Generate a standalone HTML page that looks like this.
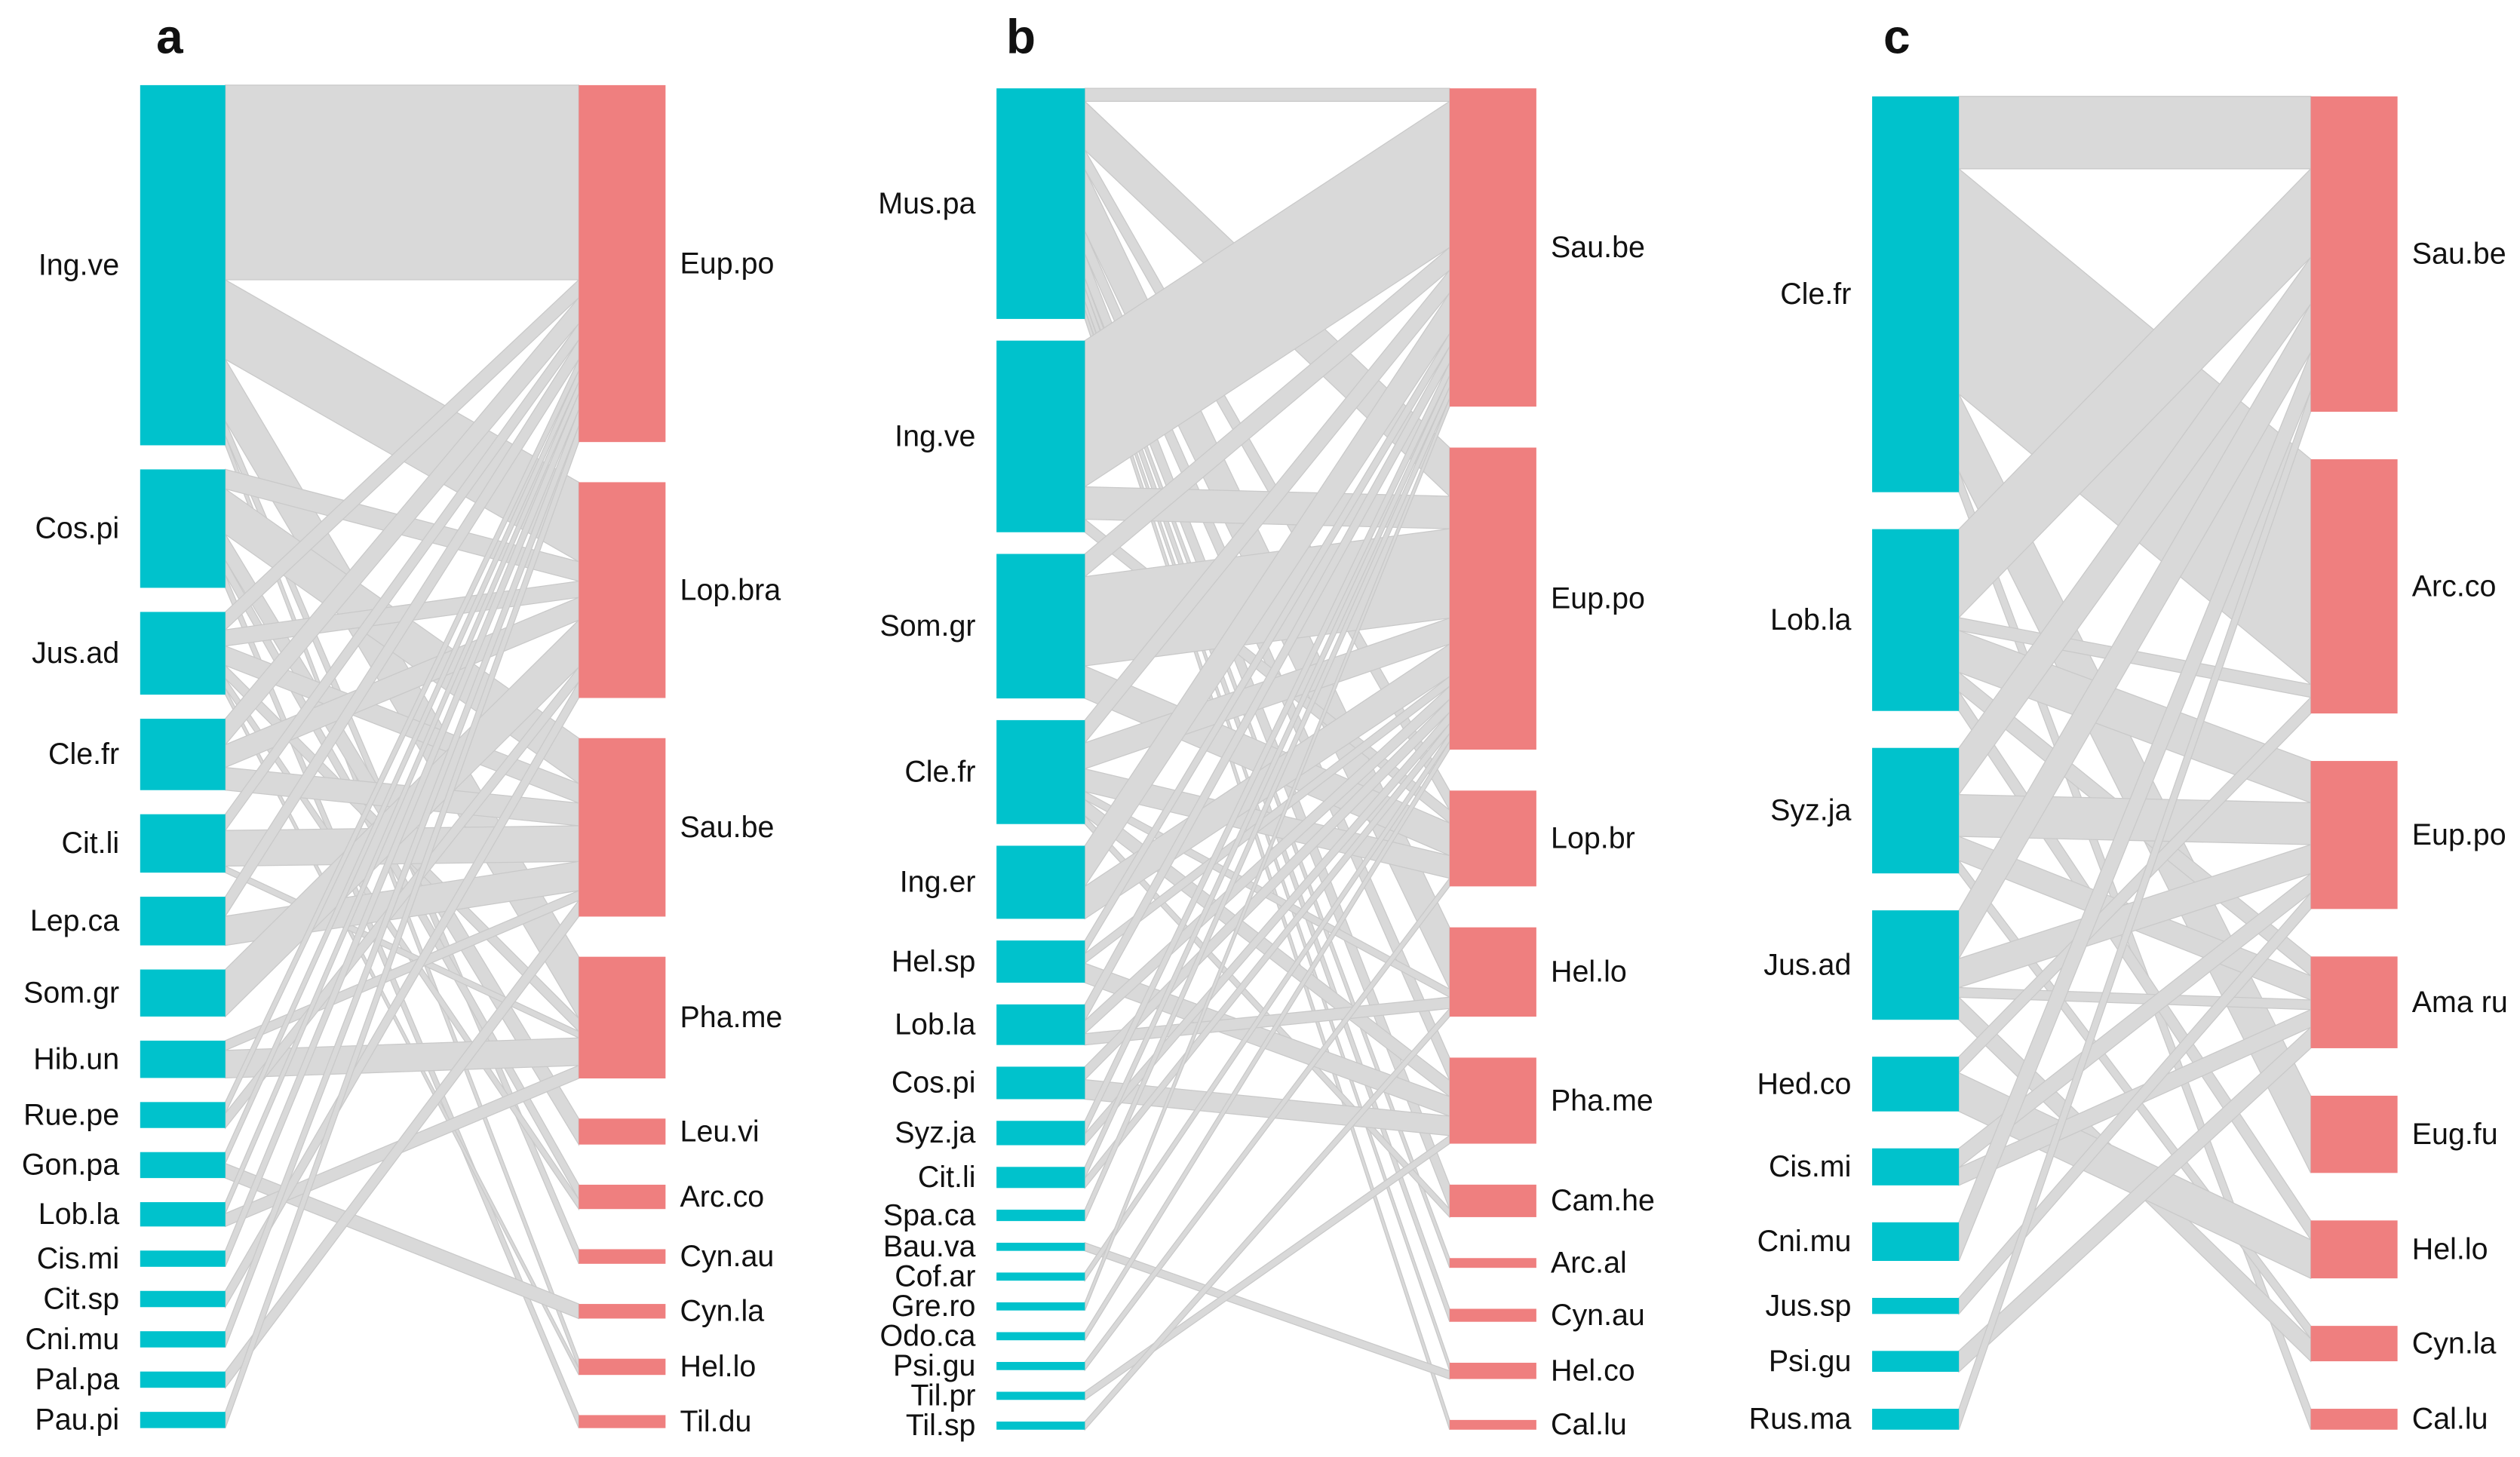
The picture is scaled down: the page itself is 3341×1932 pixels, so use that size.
<!DOCTYPE html>
<html><head><meta charset="utf-8">
<style>
html,body{margin:0;padding:0;background:#fff;}
svg{display:block;}
text{font-family:"Liberation Sans",sans-serif;fill:#111;}
</style></head>
<body>
<svg id="fig" width="3341" height="1932" viewBox="0 0 1568 907" xmlns="http://www.w3.org/2000/svg"></svg>
<script>
// ---------- Panel a data ----------
const aLeft = ["Ing.ve","Cos.pi","Jus.ad","Cle.fr","Cit.li","Lep.ca","Som.gr","Hib.un","Rue.pe","Gon.pa","Lob.la","Cis.mi","Cit.sp","Cni.mu","Pal.pa","Pau.pi"];
const aRight = ["Eup.po","Lop.bra","Sau.be","Pha.me","Leu.vi","Arc.co","Cyn.au","Cyn.la","Hel.lo","Til.du"];
const aSrc = ["Ing.ve","Ing.ve","Ing.ve","Ing.ve","Ing.ve","Cos.pi","Cos.pi","Cos.pi","Cos.pi","Cos.pi","Jus.ad","Jus.ad","Jus.ad","Jus.ad","Jus.ad","Jus.ad","Cle.fr","Cle.fr","Cle.fr","Cit.li","Cit.li","Cit.li","Lep.ca","Lep.ca","Som.gr","Hib.un","Hib.un","Rue.pe","Rue.pe","Gon.pa","Gon.pa","Lob.la","Lob.la","Cis.mi","Cit.sp","Cni.mu","Pal.pa","Pau.pi"];
const aTgt = ["Eup.po","Lop.bra","Pha.me","Cyn.au","Hel.lo","Lop.bra","Sau.be","Leu.vi","Arc.co","Til.du","Eup.po","Lop.bra","Sau.be","Pha.me","Arc.co","Hel.lo","Eup.po","Lop.bra","Sau.be","Eup.po","Sau.be","Pha.me","Eup.po","Sau.be","Lop.bra","Sau.be","Pha.me","Eup.po","Lop.bra","Eup.po","Cyn.la","Eup.po","Pha.me","Eup.po","Lop.bra","Eup.po","Sau.be","Eup.po"];
const aW   = [120,49,38,9,6, 12,28,16,9,8, 11,10,12,8,6,4, 16,14,14, 10,22,4, 12,18, 29, 6,17, 7,9, 7,9, 7,8, 10,10,10,10,10];

// ---------- Panel b data ----------
const bLeft = ["Mus.pa","Ing.ve","Som.gr","Cle.fr","Ing.er","Hel.sp","Lob.la","Cos.pi","Syz.ja","Cit.li","Spa.ca","Bau.va","Cof.ar","Gre.ro","Odo.ca","Psi.gu","Til.pr","Til.sp"];
const bRight = ["Sau.be","Eup.po","Lop.br","Hel.lo","Pha.me","Cam.he","Arc.al","Cyn.au","Hel.co","Cal.lu"];
const bSrc = ["Mus.pa","Mus.pa","Mus.pa","Mus.pa","Mus.pa","Mus.pa","Mus.pa","Mus.pa","Mus.pa","Mus.pa","Ing.ve","Ing.ve","Ing.ve","Som.gr","Som.gr","Som.gr","Cle.fr","Cle.fr","Cle.fr","Cle.fr","Cle.fr","Cle.fr","Ing.er","Ing.er","Hel.sp","Hel.sp","Hel.sp","Lob.la","Lob.la","Lob.la","Cos.pi","Cos.pi","Syz.ja","Syz.ja","Cit.li","Cit.li","Spa.ca","Bau.va","Cof.ar","Gre.ro","Odo.ca","Psi.gu","Til.pr","Til.sp"];
const bTgt = ["Sau.be","Eup.po","Lop.br","Hel.lo","Pha.me","Cam.he","Arc.al","Cyn.au","Hel.co","Cal.lu","Sau.be","Eup.po","Lop.br","Sau.be","Eup.po","Lop.br","Sau.be","Eup.po","Lop.br","Hel.lo","Pha.me","Cam.he","Sau.be","Eup.po","Sau.be","Eup.po","Pha.me","Sau.be","Eup.po","Hel.lo","Eup.po","Pha.me","Sau.be","Eup.po","Sau.be","Eup.po","Sau.be","Hel.co","Eup.po","Sau.be","Eup.po","Lop.br","Pha.me","Hel.lo"];
const bW   = [8,30,12,38,14,15,6,8,5,6, 90,20,8, 14,55,20, 14,16,14,5,10,5, 25,20, 8,6,12, 10,8,7, 8,12, 8,7, 7,6, 7, 5,5,5,5,5,5,5];

// ---------- Panel c data ----------
const cLeft = ["Cle.fr","Lob.la","Syz.ja","Jus.ad","Hed.co","Cis.mi","Cni.mu","Jus.sp","Psi.gu","Rus.ma"];
const cRight = ["Sau.be","Arc.co","Eup.po","Ama ru","Eug.fu","Hel.lo","Cyn.la","Cal.lu"];
const cSrc = ["Cle.fr","Cle.fr","Cle.fr","Cle.fr","Lob.la","Lob.la","Lob.la","Lob.la","Lob.la","Syz.ja","Syz.ja","Syz.ja","Syz.ja","Jus.ad","Jus.ad","Jus.ad","Jus.ad","Hed.co","Hed.co","Cis.mi","Cis.mi","Cni.mu","Jus.sp","Psi.gu","Rus.ma"];
const cTgt = ["Sau.be","Arc.co","Eug.fu","Cal.lu","Sau.be","Arc.co","Eup.po","Ama ru","Hel.lo","Sau.be","Eup.po","Ama ru","Cyn.la","Sau.be","Eup.po","Ama ru","Cyn.la","Arc.co","Hel.lo","Eup.po","Ama ru","Sau.be","Eup.po","Ama ru","Sau.be"];
const cW   = [45,140,48,13, 55,8,26,12,12, 29,26,15,8, 30,18,6,14, 10,24, 12,11, 24, 10, 13, 13];

const NS = "http://www.w3.org/2000/svg";
const svg = document.getElementById("fig");
function mk(tag, attrs, parent){
  const e = document.createElementNS(NS, tag);
  for (const k in attrs) e.setAttribute(k, attrs[k]);
  (parent||svg).appendChild(e);
  return e;
}

function drawPanel(pid, letter, left, right, src, tgt, w, L){
  const g = mk("g", {});
  
  
  const H = L.bot - L.top;
  const sumL = left.map(n => 0), sumR = right.map(n => 0);
  for (let i=0;i<w.length;i++){ sumL[left.indexOf(src[i])] += w[i]; sumR[right.indexOf(tgt[i])] += w[i]; }
  const totL = sumL.reduce((a,b)=>a+b,0), totR = sumR.reduce((a,b)=>a+b,0);
  const k = Math.min((H - L.gapL*(left.length-1))/totL, (H - 10*(right.length-1))/totR);
  const gapL = (H - k*totL)/(left.length-1);
  const gapR = (H - k*totR)/(right.length-1);
  const yL = [], yR = [];
  let y = L.top; for (let i=0;i<left.length;i++){ yL.push(y); y += sumL[i]*k + gapL; }
  y = L.top; for (let i=0;i<right.length;i++){ yR.push(y); y += sumR[i]*k + gapR; }
  const idx = w.map((_,i)=>i);
  const so = {}, to = {};
  const offL = left.map(()=>0), offR = right.map(()=>0);
  idx.slice().sort((a,b)=> left.indexOf(src[a])-left.indexOf(src[b]) || right.indexOf(tgt[a])-right.indexOf(tgt[b]))
    .forEach(i=>{ const s=left.indexOf(src[i]); so[i]=yL[s]+offL[s]; offL[s]+=w[i]*k; });
  idx.slice().sort((a,b)=> right.indexOf(tgt[a])-right.indexOf(tgt[b]) || left.indexOf(src[a])-left.indexOf(src[b]))
    .forEach(i=>{ const t=right.indexOf(tgt[i]); to[i]=yR[t]+offR[t]; offR[t]+=w[i]*k; });
  const lg = mk("g", {}, g);
  
  
  idx.forEach(i=>{
    const h = w[i]*k;
    const p = mk("polygon", {points: `${L.x2},${so[i]} ${L.x3},${to[i]} ${L.x3},${to[i]+h} ${L.x2},${so[i]+h}`,
      fill:"#d9d9d9", stroke:"#c9c9c9", "stroke-width":"0.6"}, lg);
    
    
  });
  left.forEach((n,i)=>{
    const r = mk("rect", {x:L.x1, y:yL[i], width:L.x2-L.x1, height:sumL[i]*k, fill:"#00c2cc"}, g);
    
    
    const t = mk("text", {x:L.x1-13, y:yL[i]+sumL[i]*k/2+6, "font-size":"18.5", "text-anchor":"end"}, g);
    t.textContent = n;
    
    
  });
  right.forEach((n,i)=>{
    const r = mk("rect", {x:L.x3, y:yR[i], width:L.x4-L.x3, height:sumR[i]*k, fill:"#ef7f7f"}, g);
    
    
    const t = mk("text", {x:L.x4+9, y:yR[i]+sumR[i]*k/2+6, "font-size":"18.5"}, g);
    t.textContent = n;
    
    
  });
  const lt = mk("text", {x:L.lx, y:33, "font-size":"30", "font-weight":"bold"}, g);
  lt.textContent = letter;
  
  
}

drawPanel("a","a",aLeft,aRight,aSrc,aTgt,aW,{x1:87,x2:140,x3:360,x4:414,top:53,bot:889,gapL:15,lx:97});
drawPanel("b","b",bLeft,bRight,bSrc,bTgt,bW,{x1:620,x2:675,x3:902,x4:956,top:55,bot:890,gapL:13.5,lx:626});
drawPanel("c","c",cLeft,cRight,cSrc,cTgt,cW,{x1:1165,x2:1219,x3:1438,x4:1492,top:60,bot:890,gapL:23,lx:1172});
</script>
</body></html>
